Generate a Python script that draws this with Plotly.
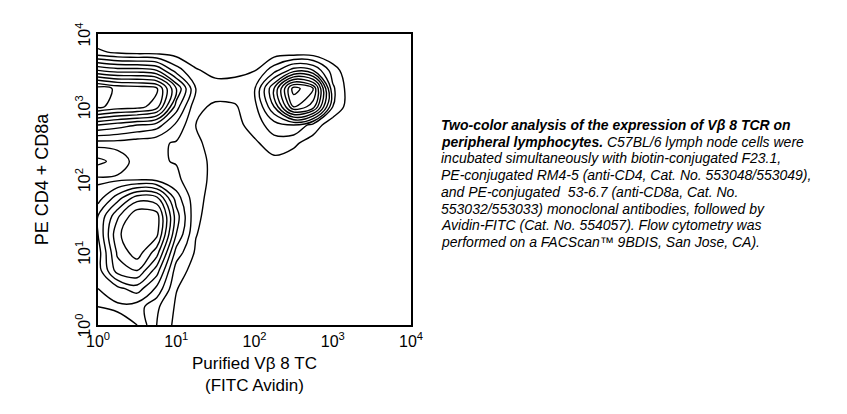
import plotly.graph_objects as go

# Grid positions (log10 decades) of the density estimate
fitc_log = [0, 0.25, 0.5, 0.75, 1.0, 1.25, 1.5, 1.75, 2.0, 2.25, 2.5, 2.75, 3.0, 3.25, 3.5, 3.75, 4.0]
pe_log_top_down = [4.0, 3.75, 3.5, 3.25, 3.0, 2.75, 2.5, 2.25, 2.0, 1.75, 1.5, 1.25, 1.0, 0.75, 0.5, 0.25, 0.0]

# Relative cell density (contour level units), rows from top (10^4) to bottom (10^0)
row_400 = [0.2, 0.2, 0.2, 0.1, 0.1, 0.1, 0, 0, 0, 0.1, 0.1, 0.1, 0, 0, 0, 0, 0]
row_375 = [1.2, 0.8, 0.6, 0.6, 0.5, 0.3, 0.2, 0.2, 0.3, 0.4, 0.3, 0.3, 0.1, 0, 0, 0, 0]
row_350 = [6.0, 5.5, 5.5, 5.0, 2.5, 1.1, 0.7, 0.7, 0.95, 2.6, 4.5, 4.0, 1.5, 0.1, 0, 0, 0]
row_325 = [11.5, 10.8, 10.6, 10.2, 6.0, 2.0, 1.4, 1.5, 1.9, 6.0, 11.5, 10.0, 2.2, 0.2, 0, 0, 0]
row_300 = [11.2, 10.6, 10.4, 9.5, 4.5, 1.2, 0.85, 0.9, 1.6, 5.0, 10.0, 8.5, 2.0, 0.2, 0, 0, 0]
row_275 = [6.0, 5.5, 5.0, 4.5, 2.8, 1.0, 0.5, 0.6, 1.5, 2.5, 3.0, 1.6, 0.3, 0, 0, 0, 0]
row_250 = [2.6, 2.6, 2.4, 2.2, 1.9, 1.2, 0.6, 0.3, 0.8, 1.6, 1.2, 0.5, 0.1, 0, 0, 0, 0]
row_225 = [4.3, 3.6, 2.6, 2.1, 1.95, 1.4, 0.7, 0.2, 0.3, 0.7, 0.5, 0.2, 0, 0, 0, 0, 0]
row_200 = [2.8, 2.8, 2.9, 2.7, 2.2, 1.4, 0.7, 0.1, 0.1, 0.2, 0.1, 0, 0, 0, 0, 0, 0]
row_175 = [3.5, 5.5, 7.5, 7.2, 3.5, 1.3, 0.6, 0.1, 0, 0, 0, 0, 0, 0, 0, 0, 0]
row_150 = [5.0, 7.8, 9.8, 9.5, 4.5, 1.2, 0.5, 0, 0, 0, 0, 0, 0, 0, 0, 0, 0]
row_125 = [5.0, 8.8, 9.9, 9.3, 4.0, 1.05, 0.4, 0, 0, 0, 0, 0, 0, 0, 0, 0, 0]
row_100 = [4.5, 8.2, 9.6, 7.5, 2.6, 0.85, 0.3, 0, 0, 0, 0, 0, 0, 0, 0, 0, 0]
row_075 = [4.5, 7.5, 8.0, 5.5, 1.5, 0.6, 0.2, 0, 0, 0, 0, 0, 0, 0, 0, 0, 0]
row_050 = [4.0, 4.7, 5.5, 3.8, 1.05, 0.4, 0.1, 0, 0, 0, 0, 0, 0, 0, 0, 0, 0]
row_025 = [4.0, 3.8, 3.5, 2.2, 0.85, 0.3, 0.1, 0, 0, 0, 0, 0, 0, 0, 0, 0, 0]
row_000 = [5.0, 4.5, 4.0, 2.0, 0.7, 0.3, 0, 0, 0, 0, 0, 0, 0, 0, 0, 0, 0]

density_top_down = [row_400, row_375, row_350, row_325, row_300, row_275, row_250, row_225,
                    row_200, row_175, row_150, row_125, row_100, row_075, row_050, row_025, row_000]

tick_vals = [1, 10, 100, 1000, 10000]
tick_text = ["10<sup>0</sup>", "10<sup>1</sup>", "10<sup>2</sup>", "10<sup>3</sup>", "10<sup>4</sup>"]

x_title = "Purified Vβ 8 TC<br>(FITC Avidin)"
y_title = "PE CD4 + CD8a"

caption_lines = [
    "<b>Two-color analysis of the expression of Vβ 8 TCR on</b>",
    "<b>peripheral lymphocytes.</b> C57BL/6 lymph node cells were",
    "incubated simultaneously with biotin-conjugated F23.1,",
    "PE-conjugated RM4-5 (anti-CD4, Cat. No. 553048/553049),",
    "and PE-conjugated \u00a053-6.7 (anti-CD8a, Cat. No.",
    "553032/553033) monoclonal antibodies, followed by",
    "Avidin-FITC (Cat. No. 554057). Flow cytometry was",
    "performed on a FACScan™ 9BDIS, San Jose, CA).",
]

FONT = "Liberation Sans, Arial, sans-serif"

# page offset of the figure (browser body margin) and plot area in page pixels
OFF = 8
W, H = 847 - OFF, 414 - OFF
L, R, T, B = 98 - OFF, 411 - OFF, 34 - OFF, 325 - OFF
PH = B - T

xs = [10 ** v for v in fitc_log]
ys = [10 ** v for v in pe_log_top_down[::-1]]
zs = density_top_down[::-1]

fig = go.Figure(
    go.Contour(
        x=xs, y=ys, z=zs,
        contours=dict(start=1, end=11, size=1, coloring="none"),
        line=dict(color="black", width=1.4, smoothing=1.0),
        showscale=False,
        hoverinfo="skip",
    )
)

axis_common = dict(
    type="log", range=[0, 4], automargin=False,
    tickmode="array", tickvals=tick_vals, ticktext=tick_text,
    ticks="", showgrid=False, zeroline=False,
    showline=True, mirror=True, linecolor="black", linewidth=2,
    tickfont=dict(family=FONT, size=16, color="black"),
)

annotations = []
for k, line in enumerate(caption_lines):
    py = 125 - OFF + 16.7 * k
    annotations.append(dict(
        text="<i>" + line + "</i>",
        xref="paper", yref="paper",
        x=(439 - OFF - L) / (R - L), y=(B - py) / PH,
        xanchor="left", yanchor="middle", align="left", showarrow=False,
        font=dict(family=FONT, size=14, color="black"),
    ))

fig.update_layout(
    width=W, height=H,
    margin=dict(l=L, r=W - R, t=T, b=H - B),
    paper_bgcolor="white", plot_bgcolor="white",
    font=dict(family=FONT, color="black"),
    showlegend=False,
    xaxis=dict(**axis_common, ticklabelstandoff=1,
               title=dict(text=x_title, font=dict(family=FONT, size=17, color="black"), standoff=8)),
    yaxis=dict(**axis_common, tickangle=-90, ticklabelshift=3,
               title=dict(text=y_title, font=dict(family=FONT, size=18, color="black"), standoff=20)),
    annotations=annotations,
)

fig.write_html("out.html")
